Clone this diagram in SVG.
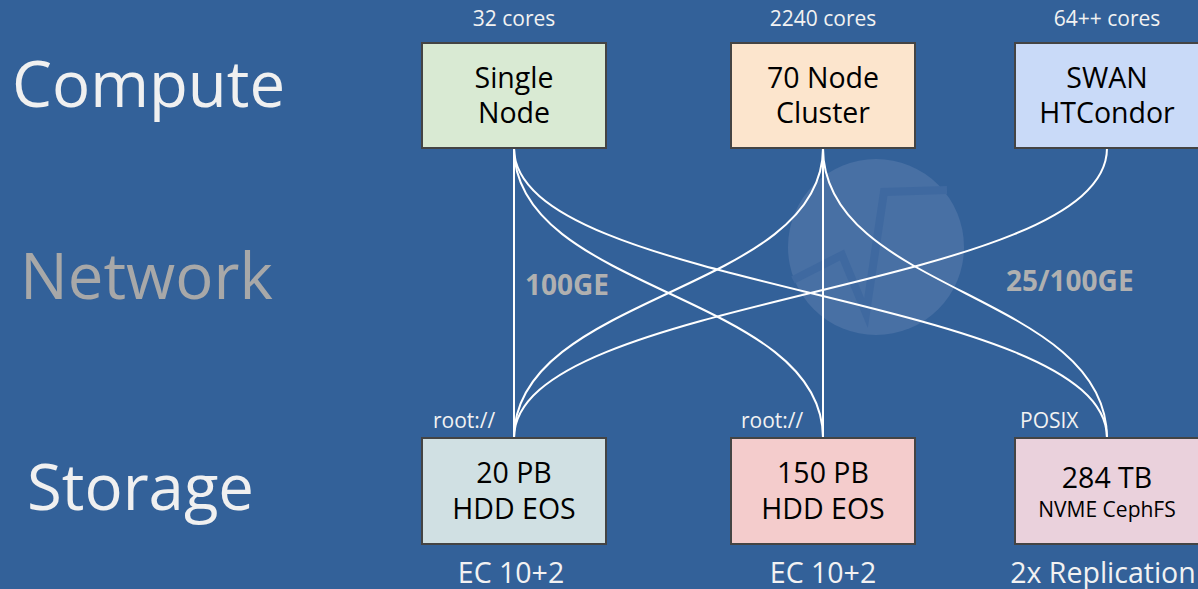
<svg xmlns="http://www.w3.org/2000/svg" width="1198" height="589" viewBox="0 0 1198 589">
<style>
.box{stroke:#444444;stroke-width:2}
.lt{font-family:"Open Sans","Noto Sans",sans-serif;fill:#000000;font-size:28.5px;text-anchor:middle}
.sm{font-family:"Open Sans","Noto Sans",sans-serif;fill:#f2f2f2;font-size:21px}
.cap{font-family:"Open Sans","Noto Sans",sans-serif;fill:#f2f2f2;font-size:28.5px;text-anchor:middle}
.big{font-family:"Open Sans","Noto Sans",sans-serif;font-size:63.5px}
.bw{font-family:"Open Sans","Noto Sans",sans-serif;font-weight:bold;font-size:28px;fill:#b0b0b0}
.ln{fill:none;stroke:#ffffff;stroke-width:2}
</style>
<rect x="0" y="0" width="1198" height="589" fill="#336199"/>
<g id="bg-logo">
<circle cx="876" cy="247" r="88" fill="#4870a4"/>
<polyline points="793,280 842,255 866,313 884,192 947,190" fill="none" stroke="#3f69a0" stroke-width="8"/>
</g>
<g id="layer-labels">
<text class="big" x="12" y="107" fill="#f0f0f0">Compute</text>
<text class="big" x="20" y="299" fill="#a8a8a8">Network</text>
<text class="big" x="27" y="510" fill="#f0f0f0">Storage</text>
</g>
<g id="connectors">
<path class="ln" d="M514,148 L514,438"/>
<path class="ln" d="M514,148 C514,293 823,293 823,438"/>
<path class="ln" d="M514,148 C514,293 1107,293 1107,438"/>
<path class="ln" d="M823,148 C823,293 514,293 514,438"/>
<path class="ln" d="M823,148 L823,438"/>
<path class="ln" d="M823,148 C823,293 1107,293 1107,438"/>
<path class="ln" d="M1107,148 C1107,293 514,293 514,438"/>
</g>
<g id="net-labels">
<text class="bw" x="525" y="295">100GE</text>
<text class="bw" x="1006" y="291">25/100GE</text>
</g>
<g id="single-node">
<text class="sm" x="514" y="26" text-anchor="middle">32 cores</text>
<rect class="box" x="422" y="43" width="184" height="105" fill="#d9ead3"/>
<text class="lt" x="514" y="88">Single</text>
<text class="lt" x="514" y="123">Node</text>
</g>
<g id="cluster">
<text class="sm" x="823" y="26" text-anchor="middle">2240 cores</text>
<rect class="box" x="731" y="43" width="184" height="105" fill="#fce5cd"/>
<text class="lt" x="823" y="88">70 Node</text>
<text class="lt" x="823" y="123">Cluster</text>
</g>
<g id="swan">
<text class="sm" x="1107" y="26" text-anchor="middle">64++ cores</text>
<rect class="box" x="1015" y="43" width="184" height="105" fill="#c9daf8"/>
<text class="lt" x="1107" y="88">SWAN</text>
<text class="lt" x="1107" y="123">HTCondor</text>
</g>
<g id="eos20">
<text class="sm" x="433" y="428">root://</text>
<rect class="box" x="422" y="438" width="184" height="106" fill="#d0e0e3"/>
<text class="lt" x="514" y="483">20 PB</text>
<text class="lt" x="514" y="519">HDD EOS</text>
<text class="cap" x="511" y="583">EC 10+2</text>
</g>
<g id="eos150">
<text class="sm" x="741" y="428">root://</text>
<rect class="box" x="731" y="438" width="184" height="106" fill="#f4cccc"/>
<text class="lt" x="823" y="483">150 PB</text>
<text class="lt" x="823" y="519">HDD EOS</text>
<text class="cap" x="823" y="583">EC 10+2</text>
</g>
<g id="cephfs">
<text class="sm" x="1020" y="428">POSIX</text>
<rect class="box" x="1015" y="438" width="184" height="106" fill="#ead1dc"/>
<text class="lt" x="1107" y="488">284 TB</text>
<text class="lt" x="1107" y="517" style="font-size:21px">NVME CephFS</text>
<text class="cap" x="1103" y="583">2x Replication</text>
</g>
</svg>
